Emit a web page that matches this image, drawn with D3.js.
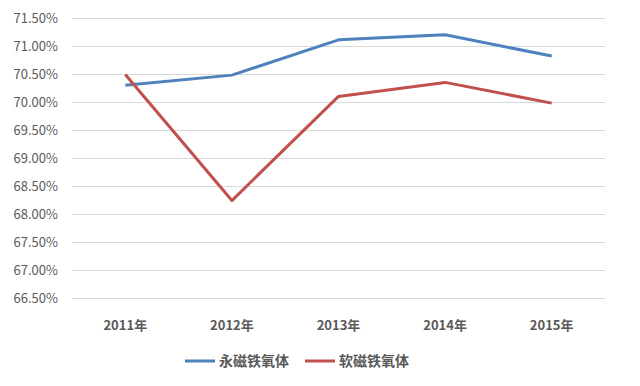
<!DOCTYPE html>
<html>
<head>
<meta charset="utf-8">
<script src="https://cdn.jsdelivr.net/npm/d3@7"></script>
<style>
  body { margin: 0; background: #fff; }
  text { font-family: "Noto Sans CJK SC", "Noto Sans", sans-serif; fill: #595959; }
</style>
</head>
<body>
<div id="chart"></div>
<script>
const years = ['2011年', '2012年', '2013年', '2014年', '2015年'];
const seriesNames = ['永磁铁氧体', '软磁铁氧体'];
const hardFerrite = [70.30, 70.48, 71.11, 71.20, 70.82];
const softFerrite = [70.49, 68.24, 70.10, 70.35, 69.98];
const yTicks = [66.5, 67, 67.5, 68, 68.5, 69, 69.5, 70, 70.5, 71, 71.5];
const colors = ['#4f81bd', '#c0504d'];

const width = 640;
const height = 386;
const margin = { left: 72, right: 35, top: 18, bottom: 88 };

const svg = d3.select('#chart')
  .append('svg')
  .attr('width', width)
  .attr('height', height);

const x = d3.scaleBand()
  .domain(years)
  .range([margin.left, width - margin.right]);

const y = d3.scaleLinear()
  .domain([66.5, 71.5])
  .range([height - margin.bottom, margin.top]);

// lineas de la rejilla
svg.append('g')
  .selectAll('line')
  .data(yTicks)
  .enter()
  .append('line')
  .attr('x1', margin.left)
  .attr('x2', width - margin.right)
  .attr('y1', d => Math.round(y(d)) + 0.5)
  .attr('y2', d => Math.round(y(d)) + 0.5)
  .attr('stroke', '#d9d9d9')
  .attr('stroke-width', 1);

// etiquetas del eje y
svg.append('g')
  .selectAll('text')
  .data(yTicks)
  .enter()
  .append('text')
  .attr('x', 58)
  .attr('y', d => y(d))
  .attr('dy', '0.35em')
  .attr('text-anchor', 'end')
  .style('font-size', '13px')
  .text(d => d.toFixed(2) + '%');

// etiquetas del eje x
svg.append('g')
  .selectAll('text')
  .data(years)
  .enter()
  .append('text')
  .attr('x', d => x(d) + x.bandwidth() / 2)
  .attr('y', 325)
  .attr('dy', '0.35em')
  .attr('text-anchor', 'middle')
  .style('font-size', '13px')
  .style('font-weight', 'bold')
  .text(d => d);

const line = d3.line()
  .x((d, i) => x(years[i]) + x.bandwidth() / 2)
  .y(d => y(d));

[hardFerrite, softFerrite].forEach((values, i) => {
  svg.append('path')
    .datum(values)
    .attr('d', line)
    .attr('fill', 'none')
    .attr('stroke', colors[i])
    .attr('stroke-width', 3)
    .attr('stroke-linejoin', 'round');
});

// leyenda
const legendX = [185, 305];
seriesNames.forEach((name, i) => {
  const g = svg.append('g')
    .attr('transform', `translate(${legendX[i]}, 361)`);
  g.append('line')
    .attr('x1', 0)
    .attr('x2', 30)
    .attr('stroke', colors[i])
    .attr('stroke-width', 3);
  g.append('text')
    .attr('x', 34)
    .attr('dy', '0.35em')
    .style('font-size', '14px')
    .style('font-weight', 'bold')
    .text(name);
});
</script>
</body>
</html>
